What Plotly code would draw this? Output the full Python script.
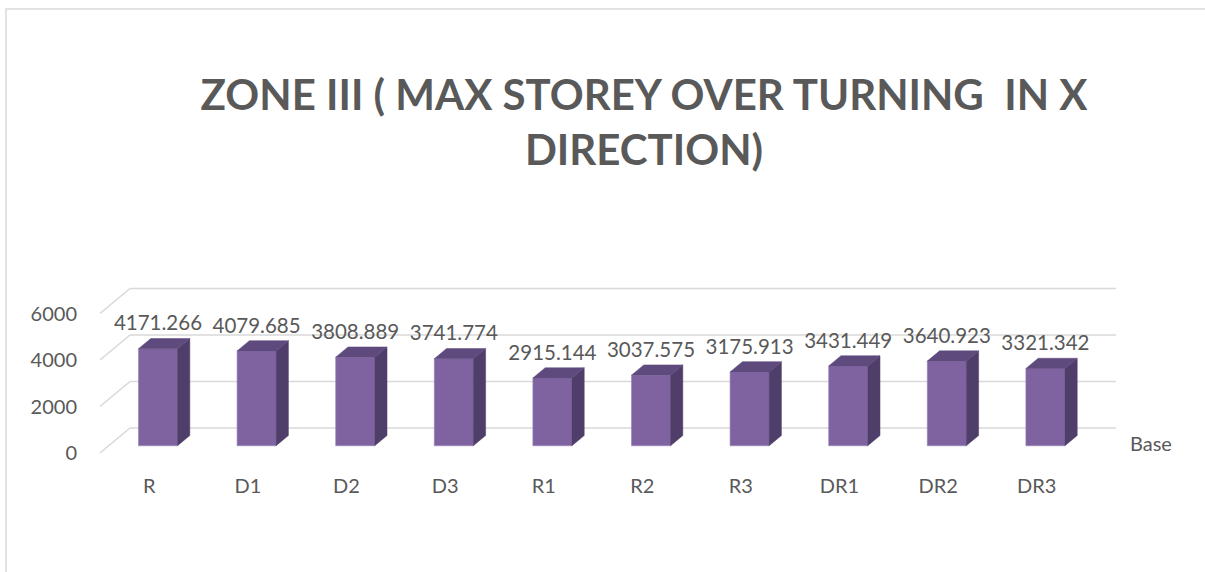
import plotly.graph_objects as go

# data
categories = ["R", "D1", "D2", "D3", "R1", "R2", "R3", "DR1", "DR2", "DR3"]
values = [4171.266, 4079.685, 3808.889, 3741.774, 2915.144,
          3037.575, 3175.913, 3431.449, 3640.923, 3321.342]
y_ticks = [0, 2000, 4000, 6000]
series_name = "Base"
title_text = "ZONE III ( MAX STOREY OVER TURNING  IN X<br>DIRECTION)"

# fake 3D geometry (pixel based, converted to axis units)
W, H = 1205, 572
L, R, T, B = 100, 87, 280, 112
CAT_PX = 98.6          # px per category
PX_PER_UNIT = 0.02325  # px per value unit
FRONT0_PX = 453        # pixel row of value 0 on the front floor edge
DEPTH_PX = (30, 25)    # floor depth vector (right, up)
BAR_D0, BAR_D1 = 0.29, 0.70
BAR_W = 0.396

n = len(categories)
dxf = DEPTH_PX[0] / CAT_PX
dyf = DEPTH_PX[1] / PX_PER_UNIT
x_range = [-0.5, -0.5 + (W - L - R) / CAT_PX]
y_range = [-(H - B - FRONT0_PX) / PX_PER_UNIT, (FRONT0_PX - T) / PX_PER_UNIT]

FRONT = "#7F63A1"
SIDE = "#4F3E69"
TOP = "#5F4A7E"
TEXT = "#595959"
GRID = "#D9D9D9"

b0 = BAR_D0 * dyf
ddx = (BAR_D1 - BAR_D0) * dxf
ddy = (BAR_D1 - BAR_D0) * dyf
xc = [i + BAR_D0 * dxf for i in range(n)]

fig = go.Figure()

# front faces
fig.add_trace(go.Bar(
    x=xc, y=values, base=b0, width=BAR_W,
    marker=dict(color=FRONT, line=dict(color="#9A83B8", width=0.6)),
    name=series_name, hoverinfo="skip",
))

# side and top faces
side_x, side_y, top_x, top_y = [], [], [], []
for x, v in zip(xc, values):
    xl, xr = x - BAR_W / 2, x + BAR_W / 2
    side_x += [xr, xr + ddx, xr + ddx, xr, xr, None]
    side_y += [b0, b0 + ddy, b0 + ddy + v, b0 + v, b0, None]
    top_x += [xl, xl + ddx, xr + ddx, xr, xl, None]
    top_y += [b0 + v, b0 + v + ddy, b0 + v + ddy, b0 + v, b0 + v, None]

fig.add_trace(go.Scatter(x=side_x, y=side_y, mode="lines", fill="toself",
                         fillcolor=SIDE, line=dict(color=SIDE, width=0.5),
                         hoverinfo="skip"))
fig.add_trace(go.Scatter(x=top_x, y=top_y, mode="lines", fill="toself",
                         fillcolor=TOP, line=dict(color=TOP, width=0.5),
                         hoverinfo="skip"))

# value labels
fig.add_trace(go.Scatter(
    x=xc, y=[b0 + v + 23.5 / PX_PER_UNIT for v in values],
    mode="text", text=[f"{v:.3f}" for v in values],
    textfont=dict(family="Lato", size=20.5, color=TEXT),
    hoverinfo="skip",
))

# back wall gridlines with floor diagonals
shapes = []
for t in y_ticks:
    shapes.append(dict(type="line", xref="x", yref="y", layer="below",
                       x0=-0.5, y0=t, x1=-0.5 + dxf, y1=t + dyf,
                       line=dict(color=GRID, width=1.6)))
    shapes.append(dict(type="line", xref="x", yref="y", layer="below",
                       x0=-0.5 + dxf, y0=t + dyf, x1=n - 0.5 + dxf, y1=t + dyf,
                       line=dict(color=GRID, width=1.6)))

# chart area border (runs off the right and bottom edges)
shapes.append(dict(type="rect", xref="paper", yref="paper",
                   x0=(6 - L) / (W - L - R), x1=1.3,
                   y0=-1.0, y1=(H - B - 9) / (H - T - B),
                   line=dict(color=GRID, width=1.5), layer="below"))

fig.update_layout(
    width=W, height=H,
    margin=dict(l=L, r=R, t=T, b=B),
    paper_bgcolor="white", plot_bgcolor="rgba(0,0,0,0)",
    showlegend=False,
    title=dict(text=title_text, x=644 / W, xanchor="center", xref="container",
               y=1 - 110 / H, yanchor="top", yref="container",
               font=dict(family="Lato", size=42, color=TEXT, weight="bold")),
    xaxis=dict(range=x_range, tickvals=list(range(n)), ticktext=categories,
               showgrid=False, zeroline=False, showline=False, ticks="",
               ticklabelstandoff=12,
               tickfont=dict(family="Lato", size=20, color=TEXT)),
    yaxis=dict(range=y_range, tickvals=y_ticks, showgrid=False, zeroline=False,
               showline=False, ticks="", ticklabelstandoff=22,
               tickfont=dict(family="Lato", size=20, color=TEXT)),
    shapes=shapes,
    annotations=[dict(text=series_name, xref="paper", yref="y",
                      x=(1128 - L) / (W - L - R), y=(FRONT0_PX - 443) / PX_PER_UNIT,
                      xanchor="left", yanchor="middle", showarrow=False,
                      font=dict(family="Lato", size=20, color=TEXT))],
)

# drop the default page margin so the figure sits at the window origin
fig.write_html("out.html", config={"displayModeBar": False},
               post_script="document.body.style.margin='0';")
